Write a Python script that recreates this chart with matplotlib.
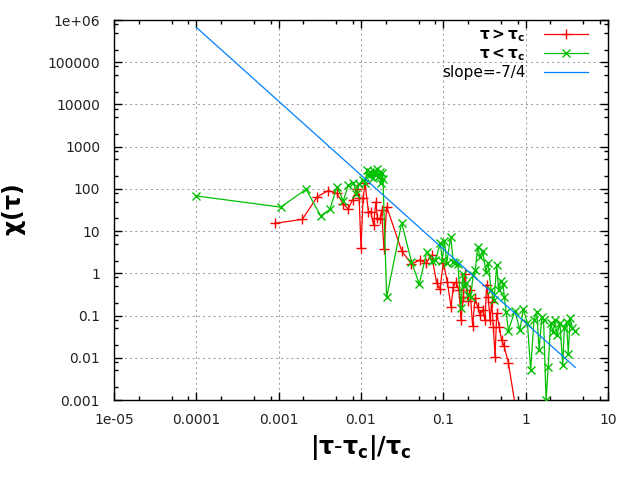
import matplotlib
matplotlib.use("Agg")
import matplotlib.pyplot as plt
from matplotlib.ticker import FixedLocator, FixedFormatter, NullFormatter
import numpy as np

plt.rcParams['font.family'] = ['DejaVu Sans']
plt.rcParams['mathtext.fontset'] = 'dejavusans'

# tau > tau_c series
red_x = [0.0009, 0.00194, 0.00294, 0.004, 0.0051, 0.0061, 0.007, 0.0079, 0.009, 0.0095,
         0.01, 0.0106, 0.0112, 0.0123, 0.0131, 0.0142, 0.0152, 0.0158, 0.017, 0.0178,
         0.019, 0.0205, 0.0312, 0.041, 0.052, 0.0617, 0.072, 0.083, 0.091, 0.1,
         0.112, 0.124, 0.132, 0.143, 0.155, 0.164, 0.175, 0.183, 0.198, 0.211,
         0.227, 0.243, 0.261, 0.279, 0.30, 0.32, 0.336, 0.35, 0.37, 0.386,
         0.405, 0.425, 0.445, 0.479, 0.51, 0.546, 0.617, 0.88]
red_y = [15.3, 19, 65, 91, 78, 44, 33, 56, 98, 60,
         3.9, 60, 135, 29, 29, 14, 50, 20, 19, 31.6,
         3.7, 38, 3.4, 1.66, 2.07, 1.73, 2.7, 0.58, 0.43, 1.8,
         0.62, 0.16, 0.48, 0.63, 0.40, 0.0785, 0.27, 0.96, 0.225, 0.40,
         0.056, 0.257, 0.162, 0.103, 0.135, 0.0785, 0.53, 0.28, 0.078, 0.21,
         0.054, 0.0106, 0.113, 0.054, 0.026, 0.019, 0.0076, 0.0001]

# tau < tau_c series
green_x = [0.0001, 0.00106, 0.00215, 0.00324, 0.0042, 0.0051, 0.0061, 0.0070, 0.0081, 0.0088,
           0.0095, 0.0105, 0.0112, 0.0118, 0.0125, 0.013, 0.0138, 0.0143, 0.015, 0.0155,
           0.016, 0.0168, 0.0175, 0.018, 0.0185, 0.0205, 0.0312, 0.041, 0.051, 0.063,
           0.072, 0.08, 0.092, 0.097, 0.103, 0.11, 0.123, 0.132, 0.14, 0.15,
           0.164, 0.172, 0.18, 0.19, 0.2, 0.215, 0.23, 0.245, 0.261, 0.279,
           0.3, 0.33, 0.35, 0.38, 0.413, 0.445, 0.47, 0.5, 0.53, 0.55,
           0.58, 0.617, 0.74, 0.85, 0.937, 1.05, 1.15, 1.26, 1.36, 1.46,
           1.57, 1.65, 1.77, 1.88, 2.01, 2.15, 2.27, 2.4, 2.61, 2.82,
           2.95, 3.14, 3.29, 3.47, 3.7, 3.98]
green_y = [68, 37, 98, 23, 33, 113, 52, 123, 140, 75,
           130, 160, 140, 280, 200, 250, 180, 260, 220, 300,
           190, 250, 140, 240, 170, 0.27, 15.8, 1.88, 0.56, 3.25,
           2.0, 2.07, 5.1, 2.0, 5.9, 1.8, 7.4, 1.88, 1.8, 1.7,
           0.148, 0.96, 0.5, 0.6, 0.3, 0.27, 0.9, 1.2, 4.27, 2.48,
           3.3, 1.1, 1.8, 0.4, 0.233, 1.57, 0.4, 0.65, 0.55, 0.28,
           0.12, 0.044, 0.13, 0.045, 0.14, 0.068, 0.0051, 0.078, 0.123, 0.0153,
           0.093, 0.078, 0.001, 0.0062, 0.068, 0.04, 0.078, 0.035, 0.065, 0.0068,
           0.05, 0.072, 0.0125, 0.086, 0.05, 0.042]

# reference power law
slope = -7.0 / 4.0
amp = 0.067
slope_x = [0.0001, 4.0]

x_ticks = [1e-5, 1e-4, 1e-3, 1e-2, 1e-1, 1, 10]
x_ticklabels = ["1e-05", "0.0001", "0.001", "0.01", "0.1", "1", "10"]
y_ticks = [1e-3, 1e-2, 1e-1, 1, 10, 100, 1000, 1e4, 1e5, 1e6]
y_ticklabels = ["0.001", "0.01", "0.1", "1", "10", "100", "1000", "10000", "100000", "1e+06"]
minor_mult = [2, 5, 8]

fig = plt.figure(figsize=(6.4, 4.8), dpi=100)
ax = fig.add_axes([114/640, 1-400/480, (608-114)/640, (400-20)/480])
ax.set_xscale('log')
ax.set_yscale('log')
ax.set_xlim(1e-5, 10)
ax.set_ylim(1e-3, 1e6)

sx = np.array(slope_x)
ax.plot(red_x, red_y, color='#ff0000', lw=0.9, marker='+', ms=7, mew=1.0,
        label=r'$\mathbf{\tau > \tau_c}$', zorder=3)
ax.plot(green_x, green_y, color='#00c000', lw=0.9, marker='x', ms=5.5, mew=1.0,
        label=r'$\mathbf{\tau < \tau_c}$', zorder=4)
ax.plot(sx, amp * sx ** slope, color='#0080ff', lw=0.9, label='slope=-7/4', zorder=5)

ax.xaxis.set_major_locator(FixedLocator(x_ticks))
ax.xaxis.set_major_formatter(FixedFormatter(x_ticklabels))
ax.yaxis.set_major_locator(FixedLocator(y_ticks))
ax.yaxis.set_major_formatter(FixedFormatter(y_ticklabels))
xminor = [m * t for t in x_ticks[:-1] for m in minor_mult]
yminor = [m * t for t in y_ticks[:-1] for m in minor_mult]
ax.xaxis.set_minor_locator(FixedLocator(xminor))
ax.yaxis.set_minor_locator(FixedLocator(yminor))
ax.xaxis.set_minor_formatter(NullFormatter())
ax.yaxis.set_minor_formatter(NullFormatter())

ax.tick_params(which='both', direction='in', top=True, right=True, width=1, color='black')
ax.tick_params(which='major', length=6)
ax.tick_params(which='minor', length=3)
ax.tick_params(axis='x', which='major', pad=9, labelsize=10, labelcolor='#222222')
ax.tick_params(axis='y', which='major', pad=10, labelsize=10, labelcolor='#222222')
for s in ax.spines.values():
    s.set_linewidth(1.0)

ax.grid(True, which='major', color='#a0a0a0', lw=0.75, linestyle=(0, (2, 3)))
ax.set_axisbelow(True)

ax.set_xlabel(r'$\mathbf{|\tau}\text{-}\mathbf{\tau_c|/\tau_c}$', fontsize=17, labelpad=5)
ax.set_ylabel(r'$\mathbf{\chi(\tau)}$', fontsize=17, labelpad=14)

leg = ax.legend(loc='upper right', frameon=False, markerfirst=False, fontsize=11,
                handlelength=2.9, handletextpad=1.2, labelspacing=0.15,
                borderaxespad=0.3, borderpad=0.5, bbox_to_anchor=(0.984, 1.013))

fig.savefig('out.png', dpi=100)
